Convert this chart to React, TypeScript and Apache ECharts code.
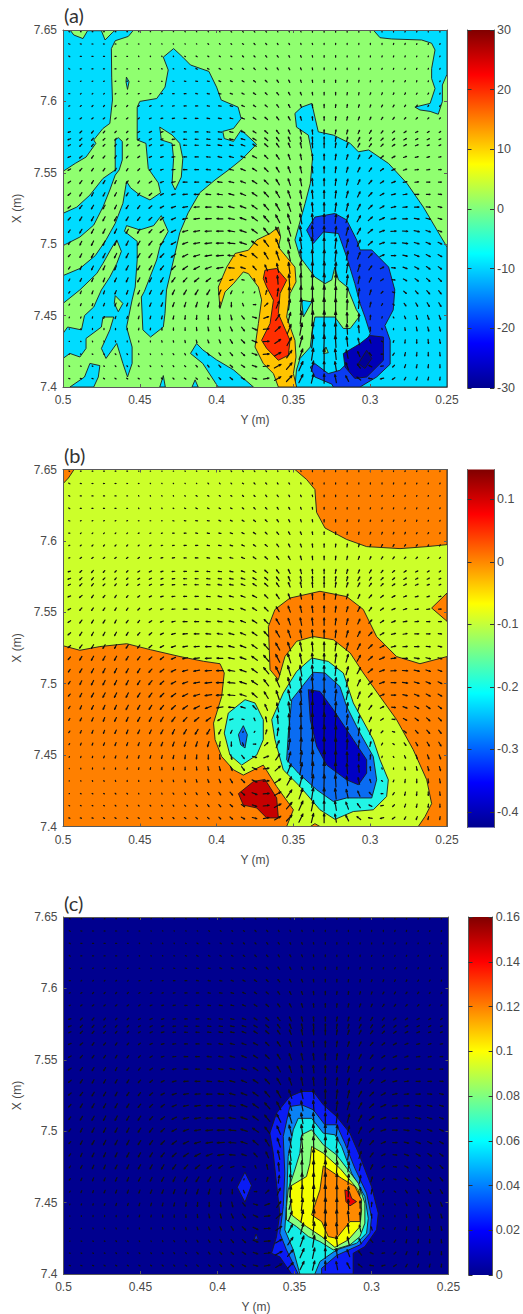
import React, { useEffect, useRef } from "react";
import * as echarts from "echarts";

type Pt = number[];

// ---- contour outlines: [Y in mm, X in mm] ----
const PLOT_CORNERS: Pt[] = [[500, 7650], [250, 7650], [250, 7400], [500, 7400]];

const A_CYAN_TOPLEFT: Pt[] = [[500,7650],[495.4,7650],[493,7646.5],[487,7644],[484,7649.5],[475,7649.5],[472.6,7643],[468,7648],[466,7650],[454,7650],[457.5,7645.5],[466,7642.5],[468.5,7637],[468.3,7617],[467.8,7601],[469.5,7584.6],[474,7581],[480,7573],[478.6,7570.6],[485,7561],[492,7556.6],[500,7551]];
const A_CYAN_DASH: Pt[] = [[458.7,7617],[457,7613.8],[458,7608.4],[459,7613.8]];
const A_CYAN_FINGER: Pt[] = [[500,7521.6],[491,7526],[482.5,7534.4],[474,7546],[466,7552],[466,7573],[464,7574.6],[461.4,7572],[461.4,7559],[463.4,7552],[466,7548.4],[469.5,7538],[474,7526],[480,7513.4],[489,7505],[500,7499]];
const A_CYAN_MAIN: Pt[] = [[434.7,7631],[428,7637],[422,7631],[417,7625.5],[405,7621],[400,7610],[397,7601],[386,7596],[384,7588],[389,7581],[396,7579],[395,7574],[389,7572],[384,7580],[374,7570],[383,7560],[391,7553],[401,7545],[411,7536],[418.5,7522],[424,7508],[428,7489],[432.6,7468],[433.6,7451.5],[434.7,7442],[443,7435],[448,7440],[449,7463],[447,7467],[439,7489],[437,7498],[431.5,7509],[436,7520],[441,7513],[450,7510],[458.6,7513],[460,7509],[451.7,7502],[451.7,7489],[453,7470],[455,7461],[458.6,7442],[455,7428],[455,7416.5],[458,7407],[461,7416.5],[465,7430.5],[472,7420],[475,7427],[469.5,7440],[467,7449],[474,7449],[475,7442],[485,7434],[485,7427],[489,7421],[495.5,7423.5],[500,7420],[500,7437.5],[497,7442],[488,7440],[486,7450],[480,7456],[475,7468],[469.5,7477],[465,7486.5],[462,7495],[465,7503],[468,7498],[474,7486.5],[478,7479.5],[489,7468],[500,7458.5],[500,7478],[489,7483],[479,7492],[472,7503],[466,7514.6],[461,7528.6],[458.6,7544],[456,7539.5],[450,7534.4],[443.4,7531],[436.5,7536],[438,7543],[444.5,7553],[446,7570.6],[451.7,7573],[451.7,7596],[450,7600],[439,7602],[433.6,7610],[431.5,7622]];
const A_GREEN_ISLAND: Pt[] = [[437,7582],[429,7576.5],[424,7570.6],[422,7560],[423,7547],[427,7538],[429,7542.6],[428,7560],[429,7570.6],[436,7573]];
const A_GREEN_DIAMOND: Pt[] = [[466,7464],[461,7458.5],[464,7452.7],[466.6,7458.5]];
const A_CYAN_BOTTOM1: Pt[] = [[495.5,7400],[486,7407],[482.5,7416.5],[476,7415],[477,7407],[480,7400]];
const A_CYAN_BOTTOM2: Pt[] = [[434.7,7408],[437,7400],[433.4,7400]];
const A_CYAN_BOTTOM3: Pt[] = [[414,7405],[416,7400],[412,7400]];
const A_CYAN_WEDGE: Pt[] = [[413,7430.5],[417,7423.5],[409,7416.5],[399,7400],[376,7400],[389,7412],[400,7419],[409,7426]];
const A_CYAN_TOPRIGHT: Pt[] = [[298,7650],[293.6,7644.6],[286,7643.7],[266.5,7643],[260,7640.7],[257.8,7636],[260,7623],[260,7616],[257.8,7609],[261,7598.6],[270.9,7596],[267.6,7594],[261,7593],[255.7,7591],[253,7600],[253,7611.5],[250,7619],[250,7650]];
const A_CYAN_RIGHT: Pt[] = [[349,7591.6],[344.6,7596],[338,7598.6],[336,7589],[333.8,7578.7],[324,7576.4],[313,7570.6],[307.7,7564.7],[301,7566],[288,7556.5],[276,7542.5],[265.4,7526],[250,7498],[250,7400],[349,7400],[348,7412],[345.7,7420],[339,7428],[338,7437],[336,7449],[323,7449],[317.5,7441],[313,7441],[306.6,7450],[309,7454],[315,7470],[320.7,7475],[323,7484],[325,7475],[329.4,7472.4],[336,7477],[345.7,7491],[349,7503],[342.4,7528.5],[339,7542.5],[337.5,7561],[340.3,7576.4],[348,7582]];
const A_CYAN_TRI: Pt[] = [[344.6,7460.8],[338,7459.6],[343.5,7449]];
const A_GREEN_TRI: Pt[] = [[330.5,7423.4],[328.8,7428],[327.3,7424]];
const A_BLUE: Pt[] = [[341.4,7509.8],[336,7519],[323,7521.5],[315.3,7517],[308.8,7503],[306.6,7496],[299,7496],[288,7484],[284,7468],[285,7454],[290.4,7443],[287,7432.7],[287,7416],[295.8,7407],[306.6,7400],[324,7400],[325,7402],[336,7407],[339,7414],[336,7416.4],[327.3,7409.4],[319.7,7411.7],[311,7421],[304.5,7428],[300,7437.4],[303.4,7449],[306.6,7458.4],[310,7472.4],[315.3,7491],[320.7,7507.5],[330.5,7508.6],[337,7500.5],[340.3,7507.5]];
const A_NAVY: Pt[] = [[317.5,7423.4],[306.6,7430.4],[300,7436],[291.4,7435],[291.4,7418.7],[302.3,7407],[310,7406],[316.4,7414]];
const A_NAVY_CORE: Pt[] = [[307.7,7416.4],[302.3,7425.7],[299,7420],[303.4,7413]];
const A_ORANGE: Pt[] = [[359.8,7512],[358.3,7505],[359.8,7498],[354.4,7491],[349,7484],[348.3,7473.6],[352.2,7465.4],[354.4,7449],[349,7432.7],[348.3,7421],[350,7409.4],[347.9,7400],[359.8,7400],[363,7409.4],[369.6,7416.4],[375,7428],[372.8,7444.4],[370.7,7461],[372.8,7470],[379.3,7479.4],[382.6,7480.6],[389,7472.4],[394.5,7466.6],[397.8,7455],[398.9,7470],[393.4,7484],[388,7493.5],[379.3,7495.8],[373.9,7503],[365.2,7507.5]];
const A_RED: Pt[] = [[368.5,7481.8],[360.9,7483],[354.4,7474.8],[358.7,7465.4],[359.8,7451.4],[352.2,7432.7],[353.3,7422.2],[359.8,7418.7],[367.4,7427],[370.7,7432.7],[365.2,7444.4],[363,7460.8],[367.4,7470],[369.6,7476]];

const B_ORANGE_CORNER: Pt[] = [[500,7650],[492.8,7650],[496.5,7644],[500,7640]];
const B_ORANGE_TOPRIGHT: Pt[] = [[349,7650],[341.4,7643],[336,7636],[334.9,7620],[329.4,7609],[315.3,7601],[302.3,7596],[280.6,7594.6],[263,7596],[250,7597.4],[250,7650]];
const B_ORANGE_LEFT: Pt[] = [[500,7526.6],[489,7523.4],[476,7526],[458.5,7528],[443,7523.8],[423.8,7519],[408.6,7515.7],[397.8,7514],[395,7507.5],[396.7,7491],[402,7472.4],[401,7460.8],[396.7,7449],[389,7439.7],[382.6,7436],[369.6,7443],[360.9,7428],[352.2,7415],[350,7411.7],[354.4,7400],[500,7400]];
const B_ORANGE_ARCH: Pt[] = [[365.2,7509.8],[366.3,7540],[362,7552],[352.2,7560],[332.7,7564.7],[315.3,7561],[304.5,7552],[295.8,7533],[282.8,7519],[267.6,7514],[250,7519],[250,7400],[268.7,7400],[264.3,7407],[260,7416],[263.2,7432.7],[272,7453.8],[282.8,7474.8],[293.6,7491],[304.5,7507.5],[313,7521.5],[324,7530.8],[337,7533],[347.9,7529.7],[355.5,7519],[359.8,7502.8]];
const B_ORANGE_RIGHT: Pt[] = [[250,7563.5],[260,7553],[250,7543.7]];
const B_ORANGE_TINY: Pt[] = [[339,7400],[336,7402],[332.7,7400]];
const B_CYAN_OVAL: Pt[] = [[381.5,7488.8],[375,7486.5],[369.6,7474.8],[369.6,7460.8],[373.9,7450],[383.7,7443],[391.3,7450],[395,7465.4],[392.4,7479.4]];
const B_BLUE_OVAL: Pt[] = [[382.6,7470.6],[380,7464.3],[381.5,7455],[384.3,7457.2],[385.8,7464.3]];
const B_CYAN_MAIN: Pt[] = [[338,7518],[327.3,7515.6],[317.5,7507.5],[311,7486.5],[298,7460.8],[293.6,7446.7],[288.2,7432.7],[289.3,7421],[298,7411.7],[311,7410.5],[322.9,7405],[332.7,7411.7],[345.7,7428],[356.6,7439.7],[362,7460.8],[364.1,7474.8],[356.6,7493.5],[347.9,7508.6]];
const B_BLUE_MAIN: Pt[] = [[337,7508],[329.4,7507.5],[319.7,7498],[315.3,7484],[306.6,7465.4],[298,7449],[295.8,7432.7],[299,7420],[307.7,7420],[315.3,7420],[324,7417.5],[334.8,7425.7],[346.8,7437.4],[354.4,7446.7],[353.3,7465.4],[351.1,7488.8]];
const B_NAVY: Pt[] = [[340.3,7495.8],[332.7,7494.6],[324,7481.8],[311,7460.8],[302.3,7446.7],[302.3,7437.4],[307.7,7429.2],[315.3,7432.7],[328.3,7443],[334.8,7456],[339,7474.8]];
const B_RED: Pt[] = [[385.8,7423],[376,7431.5],[368.5,7433],[360.9,7420],[359.8,7406],[367.4,7406],[373.9,7413],[382.6,7415]];

const C_L1: Pt[] = [[345.4,7527.8],[337.8,7527.8],[331.3,7518.5],[322.7,7510.3],[314,7498.6],[307.5,7482.3],[300,7461.3],[295.6,7442.6],[296.7,7431],[304.3,7419.2],[311.9,7414.5],[311.9,7400],[351.9,7400],[359.5,7412],[364.9,7414.5],[361.7,7426],[359.5,7442.6],[361.7,7463.6],[363.8,7484.6],[366,7498.6],[361.7,7512.6],[353,7524.3]];
const C_L1_SPOT: Pt[] = [[382.2,7471.3],[377.9,7462],[382.2,7450.3],[387.2,7460.8]];
const C_L1_TINY: Pt[] = [[375,7428],[373.5,7424.6],[376.3,7424]];
const C_L2: Pt[] = [[353,7517.3],[345.4,7518.5],[337.8,7515],[330.3,7504.5],[322.7,7504.5],[317.3,7491.6],[310.8,7474],[303.2,7456.6],[300,7440],[301,7428.6],[307.5,7420.4],[322.7,7413],[332.4,7404],[332.4,7400],[347.6,7400],[355.2,7416.9],[359.5,7428.6],[357.3,7447.2],[356.3,7470.6],[357.3,7496.3]];
const C_L3: Pt[] = [[347.6,7509],[338.9,7509],[331.3,7498.6],[323.8,7497.5],[319.4,7489.3],[312.9,7470.6],[304.3,7454.2],[302.1,7439],[303.2,7428.6],[309.7,7421.5],[322.7,7416.9],[333.5,7408.7],[336.8,7400],[346.5,7400],[350.8,7416.9],[356.3,7430.9],[355.2,7449.6],[354.1,7482.3],[350.8,7501]];
const C_L4: Pt[] = [[345.4,7497.5],[338.9,7501],[331.3,7490.5],[322.7,7483.4],[308.6,7463.6],[304.3,7449.6],[304.3,7435.6],[307.5,7426.2],[314,7420.4],[324.8,7416.9],[333.5,7422.7],[341,7426.2],[348.7,7433.2],[355.2,7437.9],[355.2,7447.2],[354.1,7458.9],[349.8,7472.9],[346.5,7484.6]];
const C_L5: Pt[] = [[338.9,7489.3],[331.3,7484.6],[320.5,7474],[308.6,7458.9],[306.4,7444.9],[307.5,7433.2],[315.1,7423.9],[323.8,7418.7],[332.4,7426.2],[342.2,7433.2],[351.9,7441.4],[353,7461.3],[342.2,7468.3],[340,7477.6]];
const C_L6: Pt[] = [[331.3,7475.7],[319.4,7467],[310.8,7461.3],[306.4,7451.9],[307.5,7436.7],[314,7436.7],[322.7,7425],[328.1,7426.2],[332.4,7436.7],[338.9,7441.4],[333.5,7458.9]];
const C_L7: Pt[] = [[317.3,7458.9],[314.4,7457.8],[312.9,7453],[309.7,7450.7],[314,7447.7],[316.6,7450.7]];

// ---- velocity field: column/row positions in metres, components ----
const ARROW_Y = [0.4959,0.4884,0.4808,0.4733,0.4658,0.4582,0.4507,0.4431,0.4356,0.4281,0.4205,0.413,0.4054,0.3979,0.3904,0.3828,0.3753,0.3677,0.3602,0.3527,0.3451,0.3376,0.33,0.3225,0.315,0.3074,0.2999,0.2923,0.2848,0.2773,0.2697,0.2622,0.2546];
const ARROW_X = [7.6488,7.6402,7.6315,7.6228,7.6141,7.6054,7.5968,7.5881,7.5786,7.5735,7.5693,7.5611,7.5522,7.5435,7.5349,7.526,7.5178,7.5091,7.5007,7.492,7.4834,7.475,7.4663,7.4577,7.4487,7.4406,7.4319,7.423,7.4146,7.4059];
const ARROW_U = [
[-2,-2,-2,-2,-2,-2,-1,-1,-1,-1,-1,-1,-1,-1,-2,-2,-2,-2,-1,-1,-1,0,0,0,0,0,0,0,0,1,1,0,0],
[-3,-3,-3,-3,-3,-2,-2,-1,-1,-1,-1,-1,-2,-2,-2,-3,-3,-3,-2,-2,-1,-1,0,0,0,0,0,0,1,1,1,1,1],
[-3,-3,-3,-3,-3,-2,-1,-1,-1,-1,-2,-3,-3,-3,-3,-3,-3,-3,-3,-2,-2,-1,0,0,0,0,0,1,1,1,1,1,1],
[-3,-3,-3,-3,-3,-2,-1,-1,-1,-2,-3,-4,-4,-4,-4,-4,-4,-4,-3,-3,-2,-1,0,0,0,0,1,1,1,1,1,1,1],
[-3,-2,-2,-2,-2,-2,-2,-2,-2,-3,-4,-5,-5,-5,-5,-5,-5,-5,-4,-3,-2,-1,0,0,1,1,1,1,2,2,1,1,1],
[-3,-2,-2,-2,-2,-2,-3,-3,-3,-4,-5,-5,-6,-6,-6,-6,-6,-5,-5,-4,-3,-1,0,0,1,1,2,2,2,2,2,2,1],
[-3,-3,-3,-3,-3,-3,-3,-4,-4,-5,-6,-6,-6,-7,-7,-7,-6,-6,-5,-4,-3,-1,0,1,1,2,2,3,3,3,3,2,2],
[-3,-4,-4,-4,-4,-4,-4,-5,-5,-6,-6,-7,-7,-8,-8,-8,-7,-7,-6,-5,-3,-1,0,1,2,3,3,4,4,4,4,3,3],
[-6,-5,-5,-4,-4,-4,-5,-6,-6,-7,-7,-8,-8,-9,-9,-9,-8,-8,-7,-5,-3,-1,0,2,3,4,5,5,6,6,6,5,4],
[-7,-6,-5,-5,-4,-4,-5,-6,-6,-7,-8,-8,-9,-9,-10,-10,-9,-8,-7,-5,-3,-1,0,2,3,5,5,6,6,7,6,6,5],
[-6,-6,-5,-5,-4,-4,-5,-6,-7,-7,-8,-9,-9,-10,-10,-10,-9,-9,-7,-5,-3,-1,0,2,4,5,6,6,7,7,7,6,5],
[-7,-7,-5,-5,-4,-4,-5,-6,-7,-8,-8,-9,-10,-10,-11,-11,-11,-9,-8,-5,-3,-1,0,2,4,5,7,7,8,8,8,7,6],
[-7,-6,-5,-5,-4,-4,-5,-6,-7,-8,-10,-10,-11,-11,-12,-12,-11,-10,-8,-6,-4,-2,0,2,4,6,7,8,9,9,9,8,7],
[-7,-6,-5,-5,-4,-5,-5,-7,-8,-9,-11,-11,-12,-12,-13,-13,-12,-11,-9,-6,-4,-2,0,2,4,6,8,9,10,10,10,9,8],
[-7,-6,-5,-5,-5,-5,-6,-7,-8,-10,-12,-13,-13,-14,-14,-14,-13,-12,-10,-7,-4,-2,0,2,5,7,9,10,11,11,11,10,9],
[-7,-7,-6,-6,-5,-6,-6,-8,-9,-11,-13,-14,-15,-15,-15,-15,-14,-13,-11,-8,-5,-2,0,3,5,8,10,11,12,12,12,11,10],
[-6,-6,-6,-6,-6,-6,-7,-8,-9,-11,-13,-15,-16,-16,-16,-16,-15,-14,-11,-8,-5,-2,0,3,6,9,11,13,13,13,13,12,10],
[-5,-6,-6,-6,-6,-6,-7,-8,-10,-12,-14,-16,-17,-18,-18,-17,-15,-14,-11,-8,-5,-2,0,3,6,9,12,13,14,14,14,12,10],
[-5,-5,-6,-6,-6,-6,-7,-9,-10,-12,-14,-16,-18,-19,-19,-18,-16,-13,-10,-7,-4,-2,0,3,5,8,11,13,13,14,13,12,10],
[-5,-5,-6,-6,-6,-6,-7,-8,-10,-12,-14,-16,-18,-19,-19,-17,-14,-11,-8,-6,-3,-1,1,3,5,7,10,11,12,12,12,11,10],
[-4,-4,-5,-5,-5,-6,-6,-7,-9,-11,-13,-15,-16,-17,-15,-12,-9,-7,-5,-4,-2,0,1,2,4,6,8,9,10,11,11,10,9],
[-3,-4,-4,-4,-5,-5,-6,-6,-7,-9,-10,-12,-12,-11,-9,-6,-3,-3,-2,-2,-1,0,1,2,3,4,6,7,8,9,9,9,8],
[-3,-3,-3,-3,-4,-4,-5,-5,-6,-6,-7,-8,-8,-6,-4,-1,2,3,3,1,0,0,1,1,2,3,4,5,6,7,7,8,7],
[-2,-2,-2,-3,-3,-3,-3,-4,-4,-4,-4,-4,-4,-2,0,3,7,9,8,4,2,1,0,0,1,2,3,3,4,5,5,6,6],
[-1,-1,-1,-2,-2,-2,-2,-2,-2,-2,-1,-1,0,1,3,7,11,13,11,7,4,2,1,0,-1,0,1,1,2,3,3,4,4],
[0,0,0,0,0,-1,-1,-1,0,0,0,1,2,3,5,8,12,15,14,10,6,3,1,-1,-2,-2,-1,-1,0,1,2,3,3],
[1,1,1,1,1,0,0,0,1,1,1,2,3,4,6,9,13,16,16,12,8,4,1,-2,-3,-4,-3,-3,-2,-1,0,1,2],
[1,2,2,2,2,2,1,1,1,2,2,3,4,5,7,9,13,16,17,14,10,5,0,-3,-5,-6,-6,-5,-4,-2,-1,0,1],
[2,2,2,2,2,2,2,2,2,2,3,4,4,5,7,9,12,16,18,15,11,6,0,-4,-7,-8,-8,-7,-5,-3,-2,-1,0],
[3,3,3,3,3,3,3,3,3,3,4,4,4,5,7,9,12,15,17,15,11,6,0,-4,-8,-10,-10,-9,-7,-4,-3,-2,-1],
];
const ARROW_V = [
[1,0,0,0,0,0,0,0,0,0,1,1,1,1,2,2,2,2,2,2,2,3,3,3,3,3,2,2,2,2,2,2,2],
[2,1,0,0,0,0,0,1,1,1,1,1,2,2,2,2,3,3,3,3,3,3,3,3,3,3,3,3,3,3,2,2,2],
[2,0,0,0,0,0,1,1,1,1,1,2,2,2,2,3,3,4,4,4,4,4,4,4,3,3,3,3,3,3,2,2,2],
[2,0,0,0,0,0,1,1,1,1,1,2,2,2,2,3,4,4,5,5,5,5,5,4,4,4,3,3,3,3,3,2,2],
[1,-1,-1,-1,-1,-1,0,0,0,1,1,1,1,2,2,3,4,5,6,6,6,6,6,6,5,5,4,4,3,3,3,2,2],
[0,-2,-2,-2,-2,-2,-1,-1,-1,0,0,1,1,1,2,3,4,5,6,7,7,7,7,7,6,6,5,5,4,4,3,3,3],
[-1,-2,-3,-3,-3,-3,-2,-2,-1,-1,0,0,1,1,2,3,4,5,7,8,8,9,9,8,8,7,6,5,5,4,4,3,3],
[-1,-3,-3,-3,-3,-3,-3,-2,-1,-1,0,0,1,1,2,3,5,6,8,9,10,10,10,10,9,8,7,6,5,4,4,3,3],
[-2,-5,-6,-5,-4,-4,-3,-3,-2,-1,0,0,1,1,2,3,5,7,9,11,12,12,12,11,11,9,8,6,5,4,3,3,3],
[-3,-6,-6,-5,-5,-4,-3,-3,-2,-1,0,0,1,1,2,3,5,7,10,12,13,13,13,12,11,10,8,6,5,4,3,3,2],
[-3,-6,-6,-5,-5,-4,-3,-3,-2,-1,0,0,1,2,2,4,6,8,10,12,14,14,14,13,12,10,8,6,5,4,3,2,2],
[-3,-6,-7,-6,-6,-5,-4,-3,-2,-1,0,0,1,2,3,4,6,9,12,14,15,16,16,15,13,11,8,6,5,3,2,2,1],
[-4,-7,-7,-7,-7,-6,-5,-4,-2,-1,0,0,1,2,3,5,7,10,13,16,18,18,18,16,14,12,9,6,4,3,1,1,0],
[-5,-8,-8,-8,-8,-7,-6,-5,-3,-2,0,0,1,2,3,5,8,11,15,18,20,20,20,18,16,13,9,6,4,2,1,0,0],
[-6,-9,-9,-9,-9,-8,-7,-6,-4,-3,-1,0,1,2,4,6,9,13,17,20,22,23,22,20,18,14,10,6,3,2,0,0,-1],
[-6,-9,-10,-10,-10,-9,-8,-7,-5,-4,-2,-1,0,2,4,6,10,15,19,23,25,25,25,23,20,15,10,6,3,1,0,-1,-2],
[-7,-10,-11,-11,-11,-10,-9,-8,-7,-5,-3,-2,-1,1,3,6,11,16,21,25,27,28,27,25,21,16,10,6,2,0,-2,-3,-3],
[-7,-10,-11,-12,-12,-11,-11,-9,-8,-6,-4,-3,-1,0,3,6,11,17,22,27,29,30,29,26,22,16,10,5,1,-1,-3,-4,-4],
[-7,-10,-12,-12,-12,-12,-11,-11,-9,-7,-5,-3,-2,0,2,6,11,17,23,28,31,32,31,28,23,17,10,5,0,-2,-4,-5,-5],
[-6,-10,-11,-12,-12,-12,-11,-11,-10,-9,-7,-5,-3,-1,2,6,12,18,24,29,32,33,33,30,25,18,11,5,0,-3,-5,-6,-6],
[-6,-9,-10,-11,-11,-12,-11,-11,-11,-10,-9,-8,-6,-3,1,4,10,16,24,30,33,34,34,31,26,19,11,5,-1,-4,-6,-7,-7],
[-5,-8,-9,-10,-10,-11,-11,-11,-12,-12,-11,-10,-9,-7,-3,1,7,14,23,31,34,35,35,32,27,20,12,5,-1,-5,-7,-8,-8],
[-4,-7,-8,-8,-9,-10,-10,-10,-11,-12,-12,-13,-13,-12,-8,-3,3,11,21,31,35,36,36,33,28,21,13,5,-2,-6,-8,-9,-9],
[-3,-5,-6,-7,-8,-8,-8,-9,-10,-11,-12,-13,-14,-14,-12,-7,0,8,19,29,35,37,37,34,28,21,13,5,-3,-7,-9,-10,-10],
[-2,-3,-4,-5,-6,-6,-7,-7,-8,-9,-10,-11,-12,-13,-13,-9,-3,5,16,27,34,37,37,34,28,20,12,4,-3,-7,-10,-11,-11],
[-1,-2,-3,-3,-4,-4,-5,-5,-6,-7,-8,-9,-10,-11,-11,-10,-6,2,13,25,33,36,36,34,28,20,11,3,-4,-8,-10,-11,-11],
[0,-1,-2,-2,-3,-3,-3,-3,-4,-4,-6,-7,-8,-9,-10,-9,-6,1,11,22,30,35,35,32,26,18,9,2,-5,-9,-10,-11,-11],
[0,-1,-1,-1,-2,-2,-2,-2,-3,-3,-4,-5,-6,-7,-8,-8,-5,1,10,20,28,32,32,29,23,14,7,0,-6,-9,-10,-10,-10],
[-1,-1,-1,-1,-2,-2,-2,-2,-2,-3,-3,-4,-5,-6,-6,-6,-4,2,10,18,25,28,28,25,19,11,4,-1,-5,-8,-9,-9,-9],
[-1,-1,-1,-2,-2,-2,-2,-2,-3,-3,-3,-4,-4,-5,-6,-5,-3,3,10,16,22,25,25,22,15,8,2,-2,-5,-7,-8,-8,-8],
];

// ---- axes and colour bars ----
const Y_RANGE = [0.25, 0.5];
const X_RANGE = [7.4, 7.65];
const AXIS_STEP = 0.05;
const BAR_A_RANGE = [-30, 30];
const BAR_A_TICKS = [-30, -20, -10, 0, 10, 20, 30];
const BAR_B_RANGE = [-0.425, 0.148];
const BAR_B_TICKS = [-0.4, -0.3, -0.2, -0.1, 0, 0.1];
const BAR_C_RANGE = [0, 0.16];
const BAR_C_TICKS = [0, 0.02, 0.04, 0.06, 0.08, 0.1, 0.12, 0.14, 0.16];
const PANEL_LABELS = ["(a)", "(b)", "(c)"];

// ---- styling ----
const GREEN = "#90FF70";
const CYAN_A = "#00DCFF";
const YELLOW_B = "#CCFF2A";
const ORANGE_B = "#FF8000";
const CYAN_B = "#22F5E6";
const BLUE_B = "#0A6CF2";
const NAVY_B = "#0000C4";
const RED_B = "#C60000";
const AMBER_A = "#FFC400";
const RED_A = "#FF2E00";
const BLUE_A = "#0A3CF2";
const NAVY_A = "#0000B8";
const NAVY_A2 = "#000098";
const NAVY_C = "#00008F";
const JET_STOPS = [
  { offset: 0, color: "#00008F" }, { offset: 0.125, color: "#0000FF" }, { offset: 0.375, color: "#00FFFF" },
  { offset: 0.625, color: "#FFFF00" }, { offset: 0.875, color: "#FF0000" }, { offset: 1, color: "#800000" },
];
const FONT = "'Liberation Sans', Arial, sans-serif";
const INK = "#4a4a4a";
const FRAME = "#5a5a5a";
const ARROW_PX = 0.37;

type Layer = { poly: Pt[]; fill: string };
const layersA: Layer[] = [
  { poly: PLOT_CORNERS, fill: GREEN },
  ...[A_CYAN_TOPLEFT, A_CYAN_DASH, A_CYAN_FINGER, A_CYAN_MAIN].map((poly) => ({ poly, fill: CYAN_A })),
  { poly: A_GREEN_ISLAND, fill: GREEN }, { poly: A_GREEN_DIAMOND, fill: GREEN },
  ...[A_CYAN_BOTTOM1, A_CYAN_BOTTOM2, A_CYAN_BOTTOM3, A_CYAN_WEDGE, A_CYAN_TOPRIGHT, A_CYAN_RIGHT, A_CYAN_TRI].map((poly) => ({ poly, fill: CYAN_A })),
  { poly: A_GREEN_TRI, fill: GREEN },
  { poly: A_BLUE, fill: BLUE_A }, { poly: A_NAVY, fill: NAVY_A }, { poly: A_NAVY_CORE, fill: NAVY_A2 },
  { poly: A_ORANGE, fill: AMBER_A }, { poly: A_RED, fill: RED_A },
];
const layersB: Layer[] = [
  { poly: PLOT_CORNERS, fill: YELLOW_B },
  ...[B_ORANGE_CORNER, B_ORANGE_TOPRIGHT, B_ORANGE_LEFT, B_ORANGE_ARCH, B_ORANGE_RIGHT, B_ORANGE_TINY].map((poly) => ({ poly, fill: ORANGE_B })),
  { poly: B_CYAN_OVAL, fill: CYAN_B }, { poly: B_BLUE_OVAL, fill: BLUE_B },
  { poly: B_CYAN_MAIN, fill: CYAN_B }, { poly: B_BLUE_MAIN, fill: BLUE_B }, { poly: B_NAVY, fill: NAVY_B },
  { poly: B_RED, fill: RED_B },
];
const layersC: Layer[] = [
  { poly: PLOT_CORNERS, fill: NAVY_C },
  { poly: C_L1, fill: "#0A1CF5" }, { poly: C_L1_SPOT, fill: "#0A1CF5" }, { poly: C_L1_TINY, fill: "#0A1CF5" },
  { poly: C_L2, fill: "#0A82F5" }, { poly: C_L3, fill: "#14EEE6" }, { poly: C_L4, fill: "#86FF80" },
  { poly: C_L5, fill: "#F5FF00" }, { poly: C_L6, fill: "#FF8A00" }, { poly: C_L7, fill: "#F00000" },
];

const plots = [
  { left: 63, top: 30, width: 384, height: 357, layers: layersA },
  { left: 63, top: 469.5, width: 384, height: 357, layers: layersB },
  { left: 63.5, top: 917, width: 385, height: 357, layers: layersC },
];
const bars = [
  { left: 467.5, top: 30, width: 26.5, height: 358, range: BAR_A_RANGE, ticks: BAR_A_TICKS },
  { left: 467.5, top: 469.5, width: 26.5, height: 358, range: BAR_B_RANGE, ticks: BAR_B_TICKS },
  { left: 468.5, top: 917, width: 26.5, height: 358, range: BAR_C_RANGE, ticks: BAR_C_TICKS },
];
const labelTops = [5, 445, 893];

const arrowData: number[][] = [];
ARROW_X.forEach((x, r) => ARROW_Y.forEach((y, c) => arrowData.push([y, x, ARROW_U[r][c], ARROW_V[r][c]])));

function buildOption() {
  const grid: any[] = [];
  const xAxis: any[] = [];
  const yAxis: any[] = [];
  const series: any[] = [];
  const line = { show: true, onZero: false, lineStyle: { color: FRAME, width: 1 } };
  const tick = { show: true, inside: true, length: 3, lineStyle: { color: FRAME, width: 1 } };
  const label = { color: INK, fontFamily: FONT, fontSize: 12 };

  plots.forEach((p, k) => {
    grid.push({ left: p.left, top: p.top, width: p.width, height: p.height, show: false });
    const gi = k;
    const bx = xAxis.length;
    xAxis.push({
      type: "value", gridIndex: gi, inverse: true, min: Y_RANGE[0], max: Y_RANGE[1], interval: AXIS_STEP, position: "bottom", z: 10,
      axisLine: line, axisTick: tick, splitLine: { show: false }, axisLabel: { ...label, margin: 7 },
      name: "Y (m)", nameLocation: "middle", nameGap: 27, nameTextStyle: { ...label },
    });
    xAxis.push({
      type: "value", gridIndex: gi, inverse: true, min: Y_RANGE[0], max: Y_RANGE[1], interval: AXIS_STEP, position: "top", z: 10,
      axisLine: line, axisTick: tick, splitLine: { show: false }, axisLabel: { show: false },
    });
    const by = yAxis.length;
    yAxis.push({
      type: "value", gridIndex: gi, min: X_RANGE[0], max: X_RANGE[1], interval: AXIS_STEP, position: "left", z: 10,
      axisLine: line, axisTick: tick, splitLine: { show: false }, axisLabel: { ...label, margin: 6 },
      name: "X (m)", nameLocation: "middle", nameGap: 34, nameTextStyle: { ...label },
    });
    yAxis.push({
      type: "value", gridIndex: gi, min: X_RANGE[0], max: X_RANGE[1], interval: AXIS_STEP, position: "right", z: 10,
      axisLine: line, axisTick: tick, splitLine: { show: false }, axisLabel: { show: false },
    });
    series.push({
      type: "custom", xAxisIndex: bx, yAxisIndex: by, silent: true, clip: true, z: 2,
      data: p.layers.map((_, i) => [i]),
      renderItem: (params: any, api: any) => {
        const layer = p.layers[params.dataIndex];
        return {
          type: "polygon",
          shape: { points: layer.poly.map(([y, x]) => api.coord([y / 1000, x / 1000])) },
          style: { fill: layer.fill, stroke: "#1c1c1c", lineWidth: params.dataIndex === 0 ? 0 : 0.9 },
        };
      },
    });
    series.push({
      type: "custom", xAxisIndex: bx, yAxisIndex: by, silent: true, clip: true, z: 3,
      data: arrowData,
      renderItem: (_: any, api: any) => {
        const [cx, cy] = api.coord([api.value(0), api.value(1)]);
        const dx = api.value(2) * ARROW_PX;
        const dy = -api.value(3) * ARROW_PX;
        const tip = [cx + dx / 2, cy + dy / 2];
        const tail = [cx - dx / 2, cy - dy / 2];
        const h = 0.26;
        const w = 0.09;
        const l1 = [tip[0] - h * dx - w * dy, tip[1] - h * dy + w * dx];
        const l2 = [tip[0] - h * dx + w * dy, tip[1] - h * dy - w * dx];
        return {
          type: "polyline",
          shape: { points: [tail, tip, l1, l2, tip] },
          style: { stroke: "#111", fill: "none", lineWidth: 1.2, lineCap: "round", lineJoin: "round" },
        };
      },
    });
  });

  bars.forEach((b) => {
    const gi = grid.length;
    grid.push({ left: b.left, top: b.top, width: b.width, height: b.height, show: false });
    const bx = xAxis.length;
    xAxis.push({ type: "value", gridIndex: gi, min: 0, max: 1, show: false });
    const by = yAxis.length;
    const barTick = { show: true, inside: true, length: 4, customValues: b.ticks, lineStyle: { color: "#333", width: 1 } };
    yAxis.push({
      type: "value", gridIndex: gi, min: b.range[0], max: b.range[1], position: "right", z: 10,
      axisLine: line, axisTick: barTick, splitLine: { show: false },
      axisLabel: { ...label, fontSize: 12.5, margin: 3, customValues: b.ticks, showMinLabel: true, showMaxLabel: true, formatter: (v: number) => String(v) },
    });
    yAxis.push({
      type: "value", gridIndex: gi, min: b.range[0], max: b.range[1], position: "left", z: 10,
      axisLine: line, axisTick: barTick, splitLine: { show: false }, axisLabel: { show: false },
    });
    series.push({
      type: "custom", xAxisIndex: bx, yAxisIndex: by, silent: true, z: 2,
      data: [[0, b.range[0], 1, b.range[1]]],
      renderItem: (_: any, api: any) => {
        const a = api.coord([api.value(0), api.value(3)]);
        const c = api.coord([api.value(2), api.value(1)]);
        return {
          type: "rect",
          shape: { x: a[0], y: a[1], width: c[0] - a[0], height: c[1] - a[1] },
          style: { fill: new echarts.graphic.LinearGradient(0, 1, 0, 0, JET_STOPS) },
        };
      },
    });
  });

  return {
    animation: false,
    backgroundColor: "#ffffff",
    grid, xAxis, yAxis, series,
    graphic: PANEL_LABELS.map((text, i) => ({
      type: "text", left: 64, top: labelTops[i],
      style: { text, fontFamily: "Lato, 'Open Sans', sans-serif", fontSize: 20, fill: "#333" },
    })),
  };
}

export default function App() {
  const ref = useRef<HTMLDivElement>(null);
  useEffect(() => {
    const chart = echarts.init(ref.current!, undefined, { renderer: "svg" });
    chart.setOption(buildOption() as any);
    return () => chart.dispose();
  }, []);
  return <div ref={ref} style={{ position: "absolute", left: 0, top: 0, width: 523, height: 1314 }} />;
}
